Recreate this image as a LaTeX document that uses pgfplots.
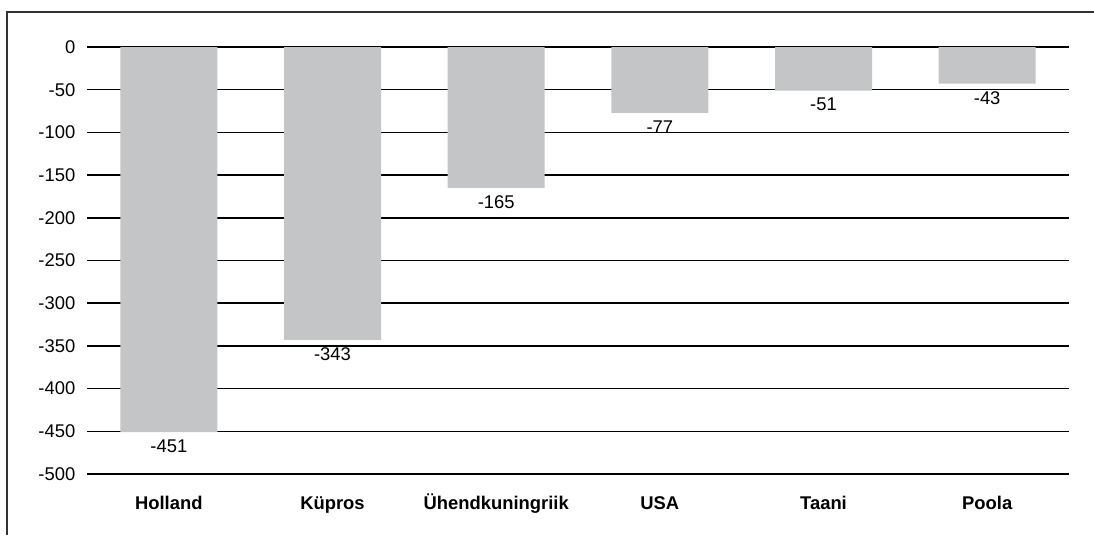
\documentclass[border=0pt]{standalone}
\usepackage{fontspec}
\setmainfont{Liberation Sans}
\usepackage{pgfplots}
\pgfplotsset{compat=1.18}
\definecolor{bargray}{HTML}{C4C5C6}

\begin{document}
\begin{tikzpicture}
	\fontsize{13.8}{16}\selectfont
	% page = 1094 x 535 px, 1px = 0.75pt
	\begin{axis}[
			at={(65.25pt,45.75pt)},
			anchor=south west,
			scale only axis,
			set layers,
			width=736.5pt,
			height=320.25pt,
			xmin=-0.5, xmax=5.5,
			ymin=-500, ymax=0,
			ytick={0,-50,...,-500},
			xtick=data,
			xticklabels={Holland, Küpros, Ühendkuningriik, USA, Taani, Poola},
			xticklabel style={font=\fontsize{13.8}{16}\selectfont\bfseries,
				text height=10pt, text depth=3pt, yshift=-12pt},
			yticklabel style={font=\fontsize{13.8}{16}\selectfont, xshift=-4pt},
			/pgf/number format/assume math mode=true,
			major tick length=0pt,
			axis line style={draw=none},
			ymajorgrids,
			grid style={black, line width=1.1pt},
			ybar,
			bar width=72.75pt,
			nodes near coords,
			every node near coord/.append style={anchor=north,
				font=\fontsize{13.8}{16}\selectfont, yshift=-1pt},
		]
		\addplot[fill=bargray, draw=none] coordinates {
			(0,-451)
			(1,-343)
			(2,-165)
			(3,-77)
			(4,-51)
			(5,-43)
		};
	\end{axis}
	\draw[line width=1pt, black!80] (5.25pt,0) -- (5.25pt,392.25pt) -- (820.5pt,392.25pt);
	\pgfresetboundingbox
	\useasboundingbox (0,0) rectangle (820.5pt,401.25pt);
\end{tikzpicture}
\end{document}
